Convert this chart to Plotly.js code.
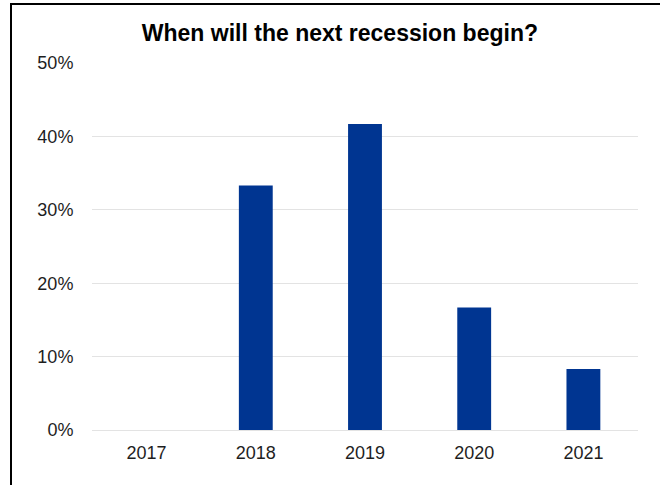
<!DOCTYPE html>
<html>
<head>
<meta charset="utf-8">
<script src="https://cdn.plot.ly/plotly-3.0.1.min.js"></script>
<style>
html,body{margin:0;padding:0;background:#fff;}
#wrap{position:relative;width:660px;height:485px;overflow:hidden;}
#chart{width:660px;height:485px;}
#frame{position:absolute;left:10px;top:3px;width:700px;height:600px;border-left:2px solid #000;border-top:2px solid #000;pointer-events:none;}
</style>
</head>
<body>
<div id="wrap">
<div id="chart"></div>
<div id="frame"></div>
</div>
<script>
const years = ['2017', '2018', '2019', '2020', '2021'];
const shares = [0, 0.333, 0.417, 0.167, 0.083];
const yTicks = [0, 0.1, 0.2, 0.3, 0.4, 0.5];
const yTickLabels = ['0%', '10%', '20%', '30%', '40%', '50%'];
const chartTitle = 'When will the next recession begin?';

const trace = {
  type: 'bar',
  x: years,
  y: shares,
  marker: {color: '#003591', line: {width: 0}},
  hoverinfo: 'skip'
};

const layout = {
  width: 660,
  height: 485,
  margin: {l: 92, r: 22, t: 63, b: 55},
  paper_bgcolor: '#ffffff',
  plot_bgcolor: '#ffffff',
  bargap: 0.69,
  showlegend: false,
  font: {family: 'Liberation Sans, Arial, sans-serif', color: '#1e1e1e'},
  title: {
    text: '<b>' + chartTitle + '</b>',
    font: {family: 'Liberation Sans, Arial, sans-serif', size: 23, color: '#000'},
    xref: 'container', x: 0.515, xanchor: 'center',
    yref: 'container', y: 0.932, yanchor: 'middle'
  },
  xaxis: {
    type: 'category',
    showgrid: false,
    showline: false,
    zeroline: false,
    ticks: 'outside', ticklen: 6, tickcolor: 'rgba(0,0,0,0)',
    tickfont: {size: 18, color: '#1e1e1e'}
  },
  yaxis: {
    range: [0, 0.5],
    tickvals: yTicks,
    ticktext: yTickLabels,
    showgrid: true,
    gridcolor: '#e3e3e3',
    gridwidth: 1,
    zeroline: true,
    zerolinecolor: '#e3e3e3',
    zerolinewidth: 1,
    showline: false,
    ticks: 'outside', ticklen: 14, tickcolor: 'rgba(0,0,0,0)',
    tickfont: {size: 18, color: '#1e1e1e'}
  }
};

Plotly.newPlot('chart', [trace], layout, {displayModeBar: false, staticPlot: true});
</script>
</body>
</html>
